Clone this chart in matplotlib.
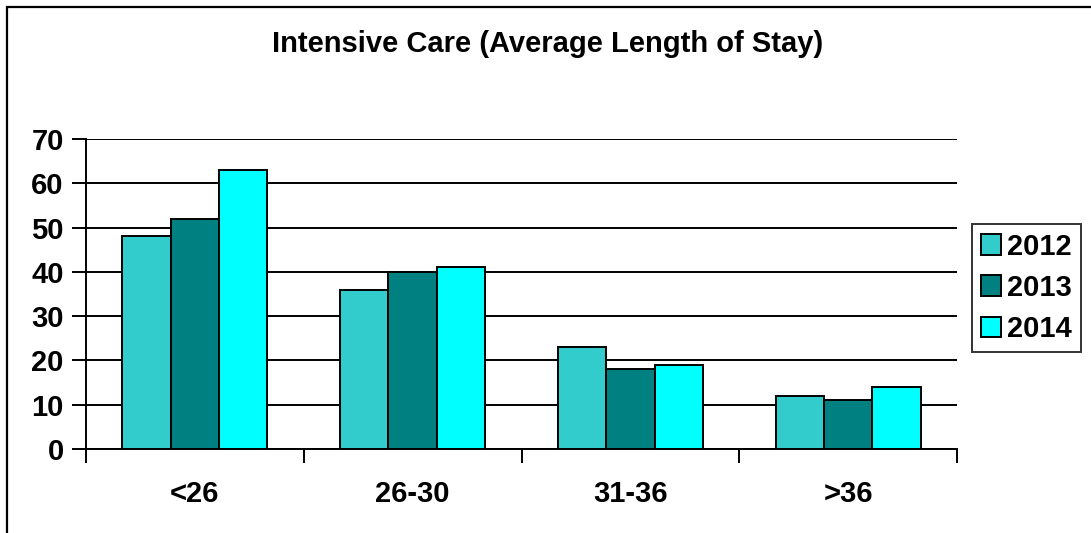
import matplotlib.pyplot as plt
import matplotlib.patches as patches
import numpy as np

plt.rcParams['font.family'] = ['Liberation Sans', 'DejaVu Sans']
plt.rcParams['font.weight'] = 'bold'

CATEGORIES = ['<26', '26-30', '31-36', '>36']
YEARS = ['2012', '2013', '2014']
VALS_2012 = [48, 36, 23, 12]
VALS_2013 = [52, 40, 18, 11]
VALS_2014 = [63, 41, 19, 14]
COLORS = ['#33CCCC', '#008080', '#00FFFF']

W, H = 1091, 533
fig = plt.figure(figsize=(W / 100, H / 100), dpi=100)

# outer chart frame (runs off the right/bottom edges)
fig.patches.append(patches.Rectangle((7 / W, -0.05), 1.1, 1 - 7 / H + 0.05,
                                     transform=fig.transFigure, fill=False,
                                     edgecolor='black', linewidth=1.6))

ax = fig.add_axes([86 / W, (H - 449) / H, (957 - 86) / W, (449 - 139) / H])

x = np.arange(len(CATEGORIES))
bw = 0.222
for i, vals in enumerate([VALS_2012, VALS_2013, VALS_2014]):
    ax.bar(x + (i - 1) * bw, vals, bw, color=COLORS[i], edgecolor='black',
           linewidth=1.4, label=YEARS[i], zorder=3)

ax.set_xlim(-0.5, len(CATEGORIES) - 0.5)
ax.set_ylim(0, 70)
ax.set_yticks(range(0, 71, 10))
ax.yaxis.grid(True, color='black', linewidth=1.4, zorder=0)
ax.set_axisbelow(True)

# category boundaries as major ticks, names as minor ticks
ax.set_xticks(np.arange(-0.5, len(CATEGORIES)), labels=[])
ax.set_xticks(x, labels=CATEGORIES, minor=True)
ax.tick_params(axis='x', which='major', direction='out', length=10, width=1.4)
ax.tick_params(axis='x', which='minor', length=0, pad=22, labelsize=21)
ax.tick_params(axis='y', direction='out', length=10, width=1.4, labelsize=21, pad=6)

for s in ['top', 'right']:
    ax.spines[s].set_visible(False)
for s in ['left', 'bottom']:
    ax.spines[s].set_linewidth(1.4)

fig.text(548 / W, 1 - 44 / H, 'Intensive Care (Average Length of Stay)',
         ha='center', va='center', fontsize=21, fontweight='bold')

leg = fig.legend(loc='upper left', bbox_to_anchor=(972 / W, 1 - 224 / H),
                 frameon=True, fancybox=False, fontsize=21,
                 handlelength=0.7, handleheight=0.7, handletextpad=0.2,
                 borderpad=0.3, labelspacing=0.45, borderaxespad=0)
leg.get_frame().set_edgecolor('black')
leg.get_frame().set_linewidth(1.4)

fig.savefig('out.png', dpi=100)
